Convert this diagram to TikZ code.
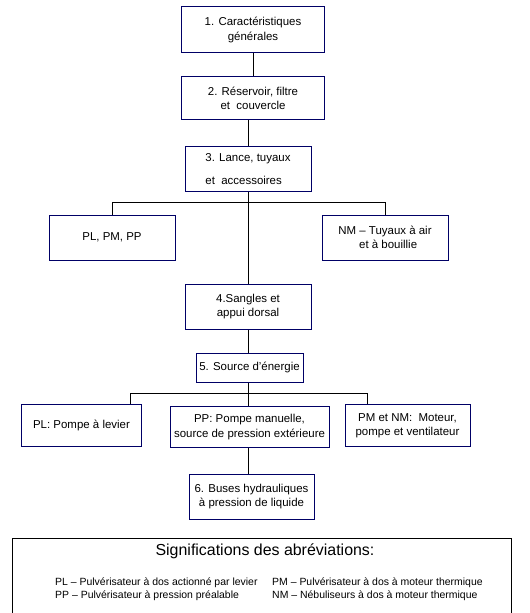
\documentclass[tikz,border=0pt]{standalone}
\usepackage{fontspec}
\setmainfont{Liberation Sans}
\definecolor{boxnavy}{RGB}{0,0,102}
\usetikzlibrary{positioning}

\tikzset{
  stagebox/.style={draw=boxnavy,line width=1bp,inner sep=2bp,align=center,
    font=\fontsize{11.5}{14.5}\selectfont},
  link/.style={draw=black,line width=1bp}
}

\begin{document}
\begin{tikzpicture}[x=1bp,y=-1bp]
  \useasboundingbox (0,0) rectangle (530,613);
  %% Main column
  \node[stagebox,minimum width=143bp,minimum height=46bp] (b1) at (253,30) {1. Caractéristiques\\générales};
  \node[stagebox,minimum width=143bp,minimum height=43bp] (b2) at (253,98.5) {2. Réservoir, filtre\\et\ \ couvercle};
  \node[stagebox,minimum width=126bp,minimum height=45bp,align=left,
    font=\fontsize{11.5}{23}\selectfont] (b3) at (248,169) {3. Lance, tuyaux\\et\ \ accessoires};
  \node[stagebox,minimum width=126bp,minimum height=45bp] (b4) at (248,306.5) {4.Sangles et\\appui dorsal};
  \node[stagebox,minimum width=107bp,minimum height=29bp] (b5) at (249.5,367.5) {5. Source d'énergie};
  \node[stagebox,minimum width=125bp,minimum height=45bp] (b6) at (251.5,496.5) {6. Buses hydrauliques\\à pression de liquide};
  %% Side boxes, first level
  \node[stagebox,minimum width=126bp,minimum height=45bp] (hoseL) at (112,237.5) {PL, PM, PP};
  \node[stagebox,minimum width=126bp,minimum height=45bp] (hoseR) at (385,237.5) {NM -- Tuyaux à air\\\ \ et à bouillie};
  %% Energy sources
  \node[stagebox,minimum width=119bp,minimum height=42bp] (srcPL) at (81.5,425.5) {PL: Pompe à levier};
  \node[stagebox,minimum width=159bp,minimum height=41bp] (srcPP) at (249.5,427) {PP: Pompe manuelle,\\source de pression extérieure};
  \node[stagebox,minimum width=125bp,minimum height=42bp] (srcPM) at (407.5,425.5) {PM et NM:\ \ Moteur,\\pompe et ventilateur};
  %% Connectors
  \coordinate (busA) at (248,202);
  \coordinate (busAL) at (112,202);
  \coordinate (busAR) at (385,202);
  \coordinate (busB) at (248,393);
  \coordinate (busBL) at (130,393);
  \coordinate (busBR) at (367,393);
  \draw[link] (b1.south) -- (b2.north);
  \draw[link] (b2.south -| busA) -- (busA |- b3.north);
  \draw[link] (b3.south) -- (b4.north);
  \draw[link] (busAL) -- (busAR);
  \draw[link] (busAL) -- (busAL |- hoseL.north);
  \draw[link] (busAR) -- (busAR |- hoseR.north);
  \draw[link] (b4.south) -- (b5.north -| b4.south);
  \draw[link] (b5.south -| busB) -- (srcPP.north -| busB);
  \draw[link] (busBL) -- (busBR);
  \draw[link] (busBL) -- (busBL |- srcPL.north);
  \draw[link] (busBR) -- (busBR |- srcPM.north);
  \draw[link] (srcPP.south -| busB) -- (b6.north -| busB);
  %% Legend
  \draw[line width=1bp] (12,620) -- (12,538) -- (511,538) -- (511,620);
  \node[font=\fontsize{16}{18}\selectfont] (legendTitle) at (265,551) {Significations des abréviations:};
  \node[anchor=west,font=\fontsize{10.5}{13.5}\selectfont,align=left,inner sep=0pt] (legendL) at (55,589.5)
    {PL -- Pulvérisateur à dos actionné par levier\\PP -- Pulvérisateur à pression préalable};
  \node[anchor=west,font=\fontsize{10.5}{13.5}\selectfont,align=left,inner sep=0pt] (legendR) at (272,589.5)
    {PM -- Pulvérisateur à dos à moteur thermique\\NM -- Nébuliseurs à dos à moteur thermique};
\end{tikzpicture}
\end{document}
